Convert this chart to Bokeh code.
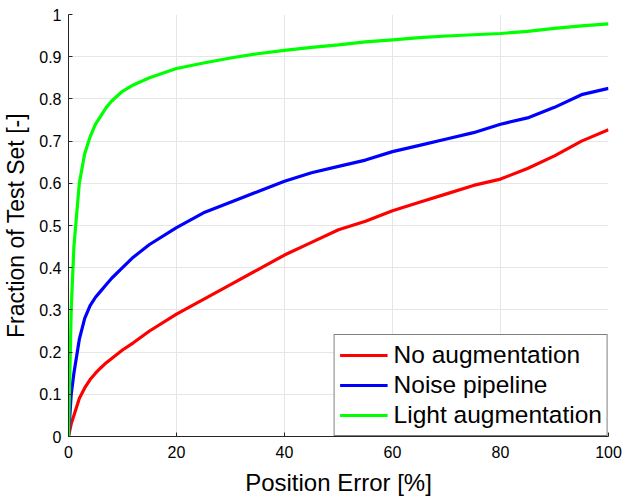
from bokeh.plotting import figure
from bokeh.models import Legend, LegendItem, Range1d, FixedTicker
from bokeh.embed import file_html
from bokeh.resources import INLINE

x_vals = [0, 0.5, 1, 2, 3, 4, 5, 6, 7, 8, 10, 12, 15, 20, 25, 30, 35, 40, 45, 50,
          55, 60, 65, 70, 75, 80, 85, 90, 95, 100]
no_aug = [0, 0.03, 0.05, 0.09, 0.115, 0.135, 0.15, 0.163, 0.175, 0.185, 0.205, 0.222, 0.25,
          0.29, 0.325, 0.36, 0.395, 0.43, 0.46, 0.49, 0.51, 0.535, 0.555, 0.575, 0.595,
          0.61, 0.635, 0.665, 0.7, 0.727]
noise = [0, 0.1, 0.15, 0.23, 0.28, 0.31, 0.33, 0.345, 0.36, 0.375, 0.4, 0.425, 0.455,
         0.495, 0.53, 0.555, 0.58, 0.605, 0.625, 0.64, 0.655, 0.675, 0.69, 0.705, 0.72,
         0.74, 0.755, 0.78, 0.81, 0.825]
light = [0, 0.3, 0.45, 0.6, 0.67, 0.71, 0.74, 0.76, 0.78, 0.795, 0.818, 0.833, 0.85,
         0.872, 0.885, 0.897, 0.907, 0.915, 0.922, 0.928, 0.935, 0.94, 0.945, 0.949, 0.952,
         0.955, 0.96, 0.967, 0.973, 0.978]
names = ["No augmentation", "Noise pipeline", "Light augmentation"]
colors = ["#ff0000", "#0000ff", "#00ff00"]

FONT = "Liberation Sans"

p = figure(width=622, height=499, output_backend="svg", toolbar_location=None,
           x_range=Range1d(0, 100), y_range=Range1d(0, 1),
           min_border_left=68, min_border_right=14, min_border_top=14, min_border_bottom=63)
p.outline_line_color = None
p.background_fill_color = "white"
p.border_fill_color = "white"

renderers = []
for ys, c in zip([no_aug, noise, light], colors):
    r = p.line(x_vals, ys, line_color=c, line_width=3.2)
    renderers.append(r)

p.xaxis.ticker = FixedTicker(ticks=[0, 20, 40, 60, 80, 100])
p.yaxis.ticker = FixedTicker(ticks=[i / 10 for i in range(11)])
p.yaxis.major_label_overrides = {0: "0", 1: "1"}
for ax in (p.xaxis, p.yaxis):
    ax.axis_line_color = "#262626"
    ax.major_tick_line_color = "#262626"
    ax.major_tick_in = 4
    ax.major_tick_out = 0
    ax.minor_tick_line_color = None
    ax.major_label_text_font = FONT
    ax.major_label_text_font_size = "16px"
    ax.major_label_text_color = "#000000"
    ax.axis_label_text_font = FONT
    ax.axis_label_text_font_style = "normal"
    ax.axis_label_text_color = "#000000"
p.xaxis.axis_label_text_font_size = "24px"
p.yaxis.axis_label_text_font_size = "23px"
p.xaxis.axis_label = "Position Error [%]"
p.yaxis.axis_label = "Fraction of Test Set [-]"
p.xaxis.major_label_standoff = 9
p.yaxis.major_label_standoff = 7
p.xaxis.axis_label_standoff = 8
p.yaxis.axis_label_standoff = 7

p.grid.grid_line_color = "#e6e6e6"
p.grid.grid_line_width = 1

legend = Legend(items=[LegendItem(label=n, renderers=[r]) for n, r in zip(names, renderers)],
                location="bottom_right")
legend.margin = 0
legend.border_line_color = "#000000"
legend.border_line_width = 1
legend.background_fill_alpha = 1
legend.label_text_font = FONT
legend.label_text_font_size = "24.5px"
legend.label_text_color = "#000000"
legend.glyph_width = 48
legend.glyph_height = 30
legend.label_height = 30
legend.spacing = 0
legend.padding = 5
legend.label_standoff = 6
p.add_layout(legend)

open("out.html", "w").write(file_html(p, INLINE))
